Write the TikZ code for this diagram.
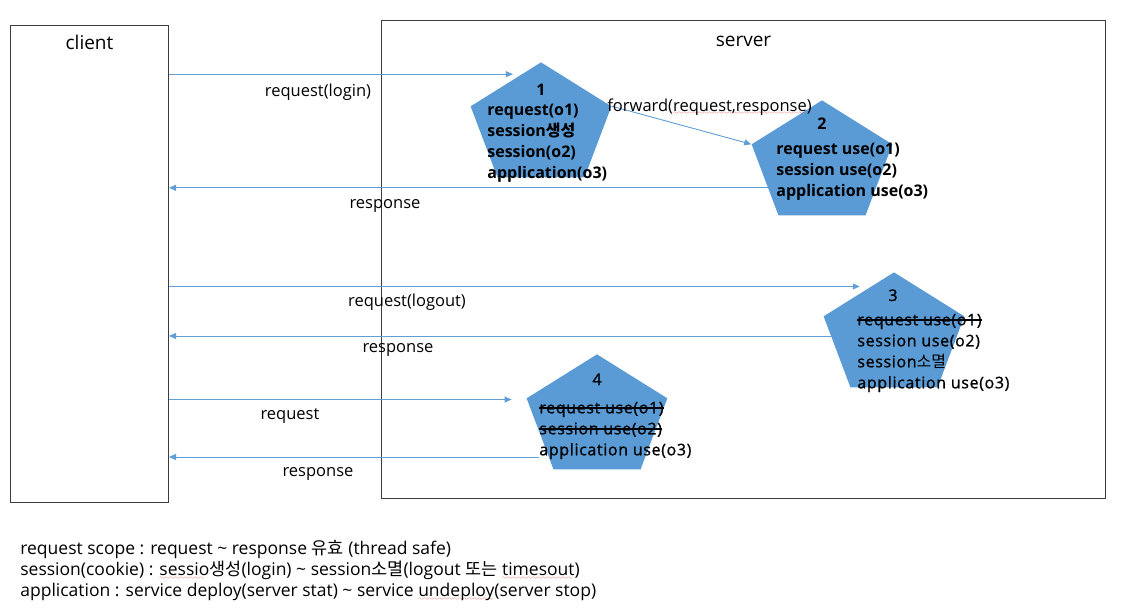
\documentclass[tikz,border=0pt]{standalone}
\usepackage{fontspec}
\setmainfont{Open Sans}
\newfontfamily\krfont{Noto Sans CJK KR}
\newfontfamily\medfont{Open Sans}[LetterSpace=4, FakeBold=1]
\usetikzlibrary{shapes.geometric,arrows.meta,positioning}

\definecolor{pentablue}{RGB}{91,155,213}
\definecolor{flowblue}{RGB}{96,158,214}
\definecolor{boxgray}{RGB}{60,60,60}
\definecolor{spellred}{RGB}{230,70,70}

\font\sixly=lasy6
\newsavebox\wavebox
\newcommand\spellwave[1]{\sbox\wavebox{#1}\rlap{\raisebox{-3.5pt}{\color{spellred}\hbox to \wd\wavebox{\leaders\hbox{\sixly\char58}\hfill}}}\usebox\wavebox}
\newcommand\strikeuse[1]{\sbox\wavebox{#1}\rlap{\rule[0.3em]{\wd\wavebox}{1.3pt}}\usebox\wavebox}

\tikzset{every picture/.style={line width=0.75pt}}

\begin{document}
\begin{tikzpicture}[x=1pt,y=-1pt,
  box/.style={draw=boxgray, line width=1pt, inner sep=0, anchor=north west},
  penta/.style={regular polygon, regular polygon sides=5, minimum size=148pt, inner sep=0,
    fill=pentablue, yscale=0.86, transform shape},
  flow/.style={draw=flowblue, line width=0.9pt, -{Triangle[length=7pt,width=6pt]}},
  boxname/.style={font=\fontsize{19}{22}\selectfont, inner sep=0},
  lbl/.style={font=\fontsize{16.5}{20}\selectfont, inner sep=0},
  pnum/.style={font=\fontsize{16}{21}\selectfont, inner sep=0, anchor=base},
  ptext/.style={font=\fontsize{16}{21}\selectfont, inner sep=0, align=left, anchor=north west},
  boldtext/.style={font=\fontsize{16}{21}\selectfont\bfseries},
  medtext/.style={font=\fontsize{16}{21}\selectfont\medfont},
  note/.style={font=\fontsize{17.5}{21}\selectfont, inner sep=0, align=left, anchor=north west}]
\useasboundingbox (0,0) rectangle (1130,608);

%Shape: Rectangle [client]
\node[box, minimum width=158pt, minimum height=477pt] (client) at (10,25) {};
%Shape: Rectangle [server]
\node[box, minimum width=724pt, minimum height=478pt] (server) at (381,20) {};
% Text Node
\node[boxname, below=10pt of client.north] (clientname) {client};
% Text Node
\node[boxname, below=15.5pt of server.north] (servername) {server};

%Shape: Pentagons
\node[penta] (p1) at (541,126) {};
\node[penta] (p2) at (822,164) {};
\node[penta] (p3) at (894,336) {};
\node[penta] (p4) at (597,418) {};

%Straight Lines [login]
\draw[flow, shorten >=8.5pt] (p1.108 -| client.east) -- (p1.108);
%Straight Lines [forward]
\draw[flow] (p1.corner 5) -- (p2.corner 2);
%Straight Lines [response 1]
\draw[flow] (p2.207) -- (p2.207 -| client.east);
%Straight Lines [logout]
\draw[flow, shorten >=11pt] (p3.112 -| client.east) -- (p3.112);
%Straight Lines [response 3]
\draw[flow] (p3.180) -- (p3.180 -| client.east);
%Straight Lines [request]
\draw[flow, shorten >=15pt] (p4.163 -| client.east) -- (p4.163);
%Straight Lines [response 4]
\draw[flow, shorten <=9pt] (p4.223) -- (p4.223 -| client.east);

% Text Node
\node[lbl] (loginlbl) at (318,92) {request(login)};
% Text Node
\node[lbl] (resp1lbl) at (385,206) {response};
% Text Node
\node[lbl, anchor=west] (fwdlbl) at (607,107) {forward(\spellwave{request,response})};
% Text Node
\node[lbl] (logoutlbl) at (407,302) {request(logout)};
% Text Node
\node[lbl] (resp3lbl) at (398,350) {response};
% Text Node
\node[lbl] (reqlbl) at (290,416) {request};
% Text Node
\node[lbl] (resp4lbl) at (318,474) {response};

% Text Node
\node[pnum, boldtext] (n1) at (541,95) {1};
\node[ptext, boldtext] (t1) at (487,103.5)
  {request(o1)\\ session{\krfont 생성}\\ session(o2)\\ application(o3)};
% Text Node
\node[pnum, boldtext] (n2) at (822,129) {2};
\node[ptext, boldtext] (t2) at (776,142.5)
  {request use(o1)\\ session use(o2)\\ application use(o3)};
% Text Node
\node[pnum, medtext] (n3) at (893,301) {3};
\node[ptext, medtext] (t3) at (857,313.5)
  {\strikeuse{request use(o1)}\\ session use(o2)\\ session{\krfont 소멸}\\ application use(o3)};
% Text Node
\node[pnum, medtext] (n4) at (597,385) {4};
\node[ptext, medtext] (t4) at (539,401.5)
  {\strikeuse{request use(o1)}\\ \strikeuse{session use(o2)}\\ application use(o3)};

% Text Node
\node[note] (notes) at (20,540)
  {request scope : request \textasciitilde{} response {\krfont 유효} (thread safe)\\
   session(cookie) : \spellwave{sessio}{\krfont 생성}(login) \textasciitilde{} session{\krfont 소멸}(logout {\krfont 또는} \spellwave{timesout})\\
   application : service deploy(server stat) \textasciitilde{} service \spellwave{undeploy}(server stop)};

\end{tikzpicture}
\end{document}
